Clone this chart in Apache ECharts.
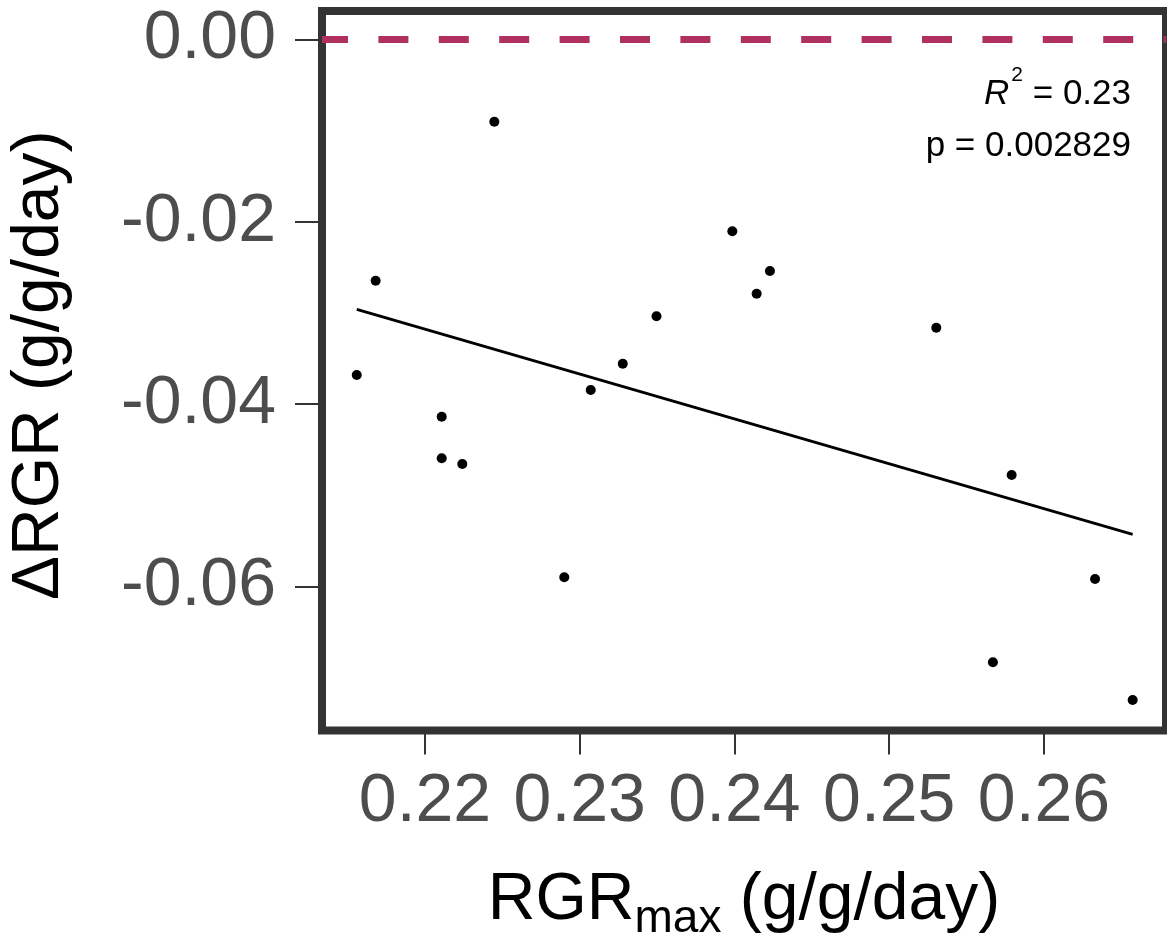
<!DOCTYPE html>
<html>
<head>
<meta charset="utf-8">
<script src="https://cdn.jsdelivr.net/npm/echarts@6/dist/echarts.min.js"></script>
<style>
html,body{margin:0;padding:0;background:#fff;}
#chart{width:1167px;height:941px;}
</style>
</head>
<body>
<div id="chart"></div>
<script>
// ---- data ----
const rgrMax = [0.21559, 0.21681, 0.22108, 0.22108, 0.22241, 0.22448, 0.22900, 0.23071, 0.23278,
                0.23496, 0.23986, 0.24143, 0.24229, 0.25304, 0.25670, 0.25791, 0.26330, 0.26573];
const deltaRGR = [-0.03680, -0.02646, -0.04137, -0.04593, -0.04655, -0.00903, -0.05897, -0.03844, -0.03556,
                  -0.03036, -0.02105, -0.02789, -0.02540, -0.03161, -0.06829, -0.04776, -0.05916, -0.07242];
const fitX = [0.21559, 0.26573];
const fitY = [-0.02960, -0.05426];
const refLine = 0;
const xTicks = [0.22, 0.23, 0.24, 0.25, 0.26];
const yTicks = [0.00, -0.02, -0.04, -0.06];
const r2Text = '0.23';
const pText = '0.002829';

const FONT = '"Liberation Sans", Arial, Helvetica, sans-serif';
const chart = echarts.init(document.getElementById('chart'), null, {renderer: 'canvas'});

const points = rgrMax.map((x, i) => [x, deltaRGR[i]]);
const fitLine = fitX.map((x, i) => [x, fitY[i]]);

chart.setOption({
  animation: false,
  backgroundColor: '#ffffff',
  grid: {
    left: 322, right: 1, top: 11, bottom: 941 - 730.5,
    containLabel: false, outerBoundsMode: 'none',
    show: true, borderColor: '#333333', borderWidth: 8,
    backgroundColor: 'transparent', z: 0
  },
  xAxis: {
    type: 'value',
    min: 0.213344, max: 0.267884,
    axisLine: {show: false, onZero: false},
    splitLine: {show: false},
    axisTick: {show: true, length: 24, customValues: xTicks, lineStyle: {color: '#333333', width: 2}},
    axisLabel: {
      customValues: xTicks, margin: 38, fontSize: 68, color: '#4D4D4D', fontFamily: FONT,
      formatter: v => v.toFixed(2)
    },
    name: '{a|RGR}{s|max}{a| (g/g/day)}',
    nameLocation: 'middle',
    nameGap: 137,
    nameTextStyle: {
      rich: {
        a: {fontSize: 66, lineHeight: 66, verticalAlign: 'middle', color: '#000000', fontFamily: FONT},
        s: {fontSize: 46, lineHeight: 66, verticalAlign: 'middle', padding: [38, 0, 0, 0], color: '#000000', fontFamily: FONT}
      }
    }
  },
  yAxis: {
    type: 'value',
    min: -0.075765, max: 0.003102,
    axisLine: {show: false, onZero: false},
    splitLine: {show: false},
    axisTick: {show: true, length: 27, customValues: yTicks, lineStyle: {color: '#333333', width: 2}},
    axisLabel: {
      customValues: yTicks, margin: 46, fontSize: 68, color: '#4D4D4D', fontFamily: FONT,
      padding: [7, 0, 0, 0],
      formatter: v => v.toFixed(2)
    },
    name: 'ΔRGR (g/g/day)',
    nameLocation: 'middle',
    nameGap: 249,
    nameTextStyle: {fontSize: 66, color: '#000000', fontFamily: FONT, padding: [0, 0, 0, 11]}
  },
  series: [
    {
      type: 'line', data: [], z: -1, silent: true,
      markLine: {
        silent: true, symbol: ['none', 'none'], label: {show: false},
        lineStyle: {color: '#B03060', width: 7, type: [30, 30.4], dashOffset: 4},
        emphasis: {disabled: true},
        data: [{yAxis: refLine}]
      }
    },
    {
      type: 'line', data: fitLine, symbol: 'none', silent: true, z: 3,
      lineStyle: {color: '#000000', width: 2.8}
    },
    {
      type: 'scatter', data: points, symbol: 'circle', symbolSize: 10, silent: true, z: 4,
      itemStyle: {color: '#000000', opacity: 1}
    }
  ],
  graphic: [
    {
      type: 'text', z: 10,
      style: {
        x: 1131, y: 112.1, align: 'right', verticalAlign: 'bottom',
        text: '{i|R}{s|2}{n| = ' + r2Text + '}',
        rich: {
          i: {fontSize: 35, lineHeight: 35, fontStyle: 'italic', verticalAlign: 'middle', fill: '#000', fontFamily: FONT},
          s: {fontSize: 21, lineHeight: 35, verticalAlign: 'middle', padding: [0, 0, 38, 2], fill: '#000', fontFamily: FONT},
          n: {fontSize: 35, lineHeight: 35, verticalAlign: 'middle', fill: '#000', fontFamily: FONT}
        }
      }
    },
    {
      type: 'text', z: 10,
      style: {
        x: 1131, y: 163.7, align: 'right', verticalAlign: 'bottom',
        text: 'p = ' + pText,
        fontSize: 35, lineHeight: 35, fill: '#000', fontFamily: FONT
      }
    }
  ]
});
</script>
</body>
</html>
